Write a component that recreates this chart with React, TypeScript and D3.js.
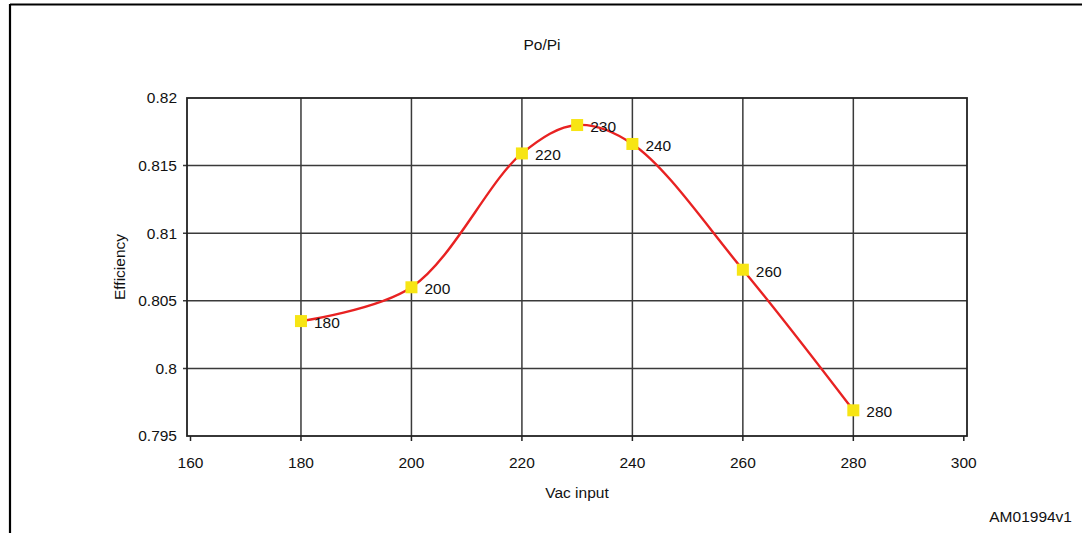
import React from "react";
import * as d3 from "d3";

// Vac input (V) vs efficiency (Po/Pi)
const vacInput = [180, 200, 220, 230, 240, 260, 280];
const efficiency = [0.8035, 0.806, 0.8159, 0.818, 0.8166, 0.8073, 0.7969];
const xTicks = [160, 180, 200, 220, 240, 260, 280, 300];
const yTicks = [0.795, 0.8, 0.805, 0.81, 0.815, 0.82];

const W = 1082;
const H = 533;
const font = "'Liberation Sans', Arial, Helvetica, sans-serif";
const fs = 15.5;

const App = () => {
  // plot box
  const left = 187, right = 967, top = 98, bottom = 436;

  const x = d3.scaleLinear().domain([160, 300]).range([190.5, 963.8]);
  const y = d3.scaleLinear().domain([0.795, 0.82]).range([bottom, top]);

  const pts: [number, number][] = vacInput.map((v, i) => [v, efficiency[i]]);
  const line = d3
    .line<[number, number]>()
    .x(d => x(d[0]))
    .y(d => y(d[1]))
    .curve(d3.curveCatmullRom.alpha(0.5));

  return (
    <svg
      width={W}
      height={H}
      style={{ position: "absolute", left: 0, top: 0, background: "#fff" }}
      fontFamily={font}
      fontSize={fs}
    >
      {/* outer figure frame */}
      <line x1={10} y1={4.5} x2={W} y2={4.5} stroke="#000" strokeWidth={2.2} />
      <line x1={10} y1={4} x2={10} y2={H} stroke="#000" strokeWidth={2.2} />

      <text x={542} y={50} textAnchor="middle" fill="#111">Po/Pi</text>

      {/* grid */}
      {xTicks.slice(1, -1).map(t => (
        <line key={"gx" + t} x1={x(t)} x2={x(t)} y1={top} y2={bottom} stroke="#3a3a3a" strokeWidth={1.5} />
      ))}
      {yTicks.slice(1, -1).map(t => (
        <line key={"gy" + t} x1={left - 4} x2={right} y1={y(t)} y2={y(t)} stroke="#3a3a3a" strokeWidth={1.5} />
      ))}
      {/* x tick marks */}
      {xTicks.map(t => (
        <line key={"tx" + t} x1={x(t)} x2={x(t)} y1={bottom} y2={bottom + 5} stroke="#222" strokeWidth={1.5} />
      ))}
      <rect x={left} y={top} width={right - left} height={bottom - top} fill="none" stroke="#222" strokeWidth={1.8} />

      {/* tick labels */}
      {yTicks.map(t => (
        <text key={"ly" + t} x={177} y={y(t)} dy="0.35em" textAnchor="end" fill="#111">
          {d3.format("")(t)}
        </text>
      ))}
      {xTicks.map(t => (
        <text key={"lx" + t} x={x(t)} y={463} dy="0.35em" textAnchor="middle" fill="#111">
          {t}
        </text>
      ))}

      <text x={577} y={498} textAnchor="middle" fill="#111">Vac input</text>
      <text
        transform={`translate(125,${(top + bottom) / 2}) rotate(-90)`}
        textAnchor="middle"
        fill="#111"
      >
        Efficiency
      </text>

      {/* series */}
      <path d={line(pts) || ""} fill="none" stroke="#e82222" strokeWidth={2.4} />
      {pts.map(([v, e]) => (
        <g key={"p" + v}>
          <rect x={x(v) - 6} y={y(e) - 6} width={12} height={12} fill="#f7e514" />
          <text x={x(v) + 13} y={y(e) + 1.5} dy="0.35em" fill="#111">{v}</text>
        </g>
      ))}

      <text x={1072} y={522} textAnchor="end" fill="#111">AM01994v1</text>
    </svg>
  );
};

export default App;
